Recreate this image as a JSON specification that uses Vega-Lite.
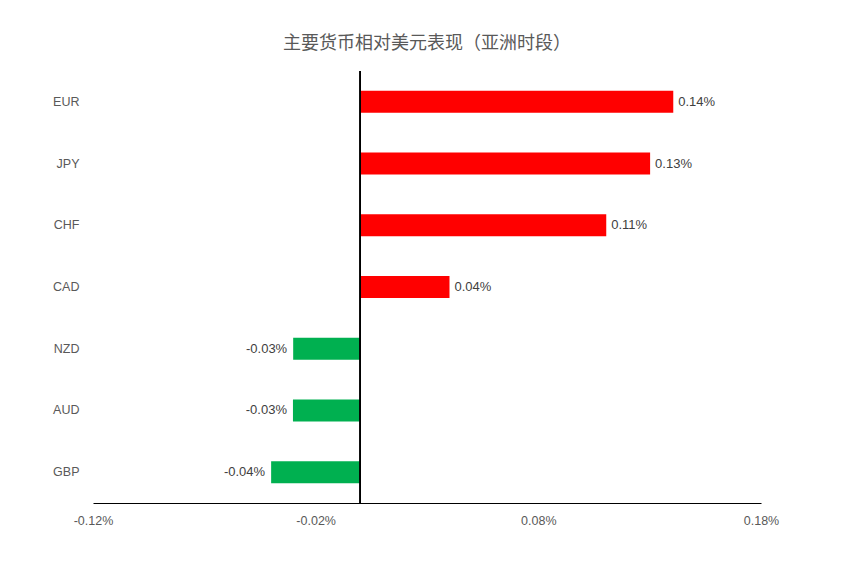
{
  "$schema": "https://vega.github.io/schema/vega-lite/v6.json",
  "title": {
    "text": "主要货币相对美元表现（亚洲时段）",
    "anchor": "middle",
    "fontSize": 18,
    "fontWeight": "normal",
    "font": "Noto Sans CJK SC",
    "color": "#595959",
    "offset": 18
  },
  "width": 668,
  "height": 432,
  "autosize": {"type": "none"},
  "padding": {"left": 93, "top": 71, "right": 88, "bottom": 58},
  "background": "white",
  "data": {
    "values": [
      {"currency": "EUR", "value": 0.001406},
      {"currency": "JPY", "value": 0.001302},
      {"currency": "CHF", "value": 0.001105},
      {"currency": "CAD", "value": 0.000401},
      {"currency": "NZD", "value": -0.000301},
      {"currency": "AUD", "value": -0.000302},
      {"currency": "GBP", "value": -0.000400}
    ]
  },
  "encoding": {
    "y": {
      "field": "currency",
      "type": "nominal",
      "sort": null,
      "title": null,
      "scale": {"paddingInner": 0.644, "paddingOuter": 0.322},
      "axis": {
        "domain": false,
        "ticks": false,
        "labelPadding": 14,
        "labelFontSize": 12.5,
        "labelColor": "#595959",
        "labelFont": "Liberation Sans"
      }
    },
    "x": {
      "field": "value",
      "type": "quantitative",
      "title": null,
      "scale": {"domain": [-0.0012, 0.0018], "nice": false, "zero": false},
      "axis": {
        "values": [-0.0012, -0.0002, 0.0008, 0.0018],
        "format": ".2%",
        "grid": false,
        "ticks": false,
        "labelFlush": false,
        "labelBound": false,
        "domainColor": "#000000",
        "labelPadding": 11,
        "labelFontSize": 12.5,
        "labelColor": "#595959",
        "labelFont": "Liberation Sans"
      }
    }
  },
  "layer": [
    {
      "mark": {"type": "bar"},
      "encoding": {
        "color": {
          "condition": {"test": "datum.value >= 0", "value": "#FF0000"},
          "value": "#00B050"
        }
      }
    },
    {
      "mark": {
        "type": "text",
        "fontSize": 13,
        "font": "Liberation Sans",
        "color": "#404040",
        "align": {"expr": "datum.value >= 0 ? 'left' : 'right'"},
        "dx": {"expr": "datum.value >= 0 ? 5 : -6"}
      },
      "encoding": {
        "text": {"field": "value", "type": "quantitative", "format": ".2%"}
      }
    },
    {
      "mark": {"type": "rule", "color": "#000000", "strokeWidth": 1},
      "encoding": {"x": {"datum": 0}, "y": null}
    }
  ],
  "config": {
    "view": {"stroke": null},
    "locale": {
      "number": {
        "decimal": ".",
        "thousands": ",",
        "grouping": [3],
        "currency": ["$", ""],
        "minus": "-"
      }
    }
  }
}
